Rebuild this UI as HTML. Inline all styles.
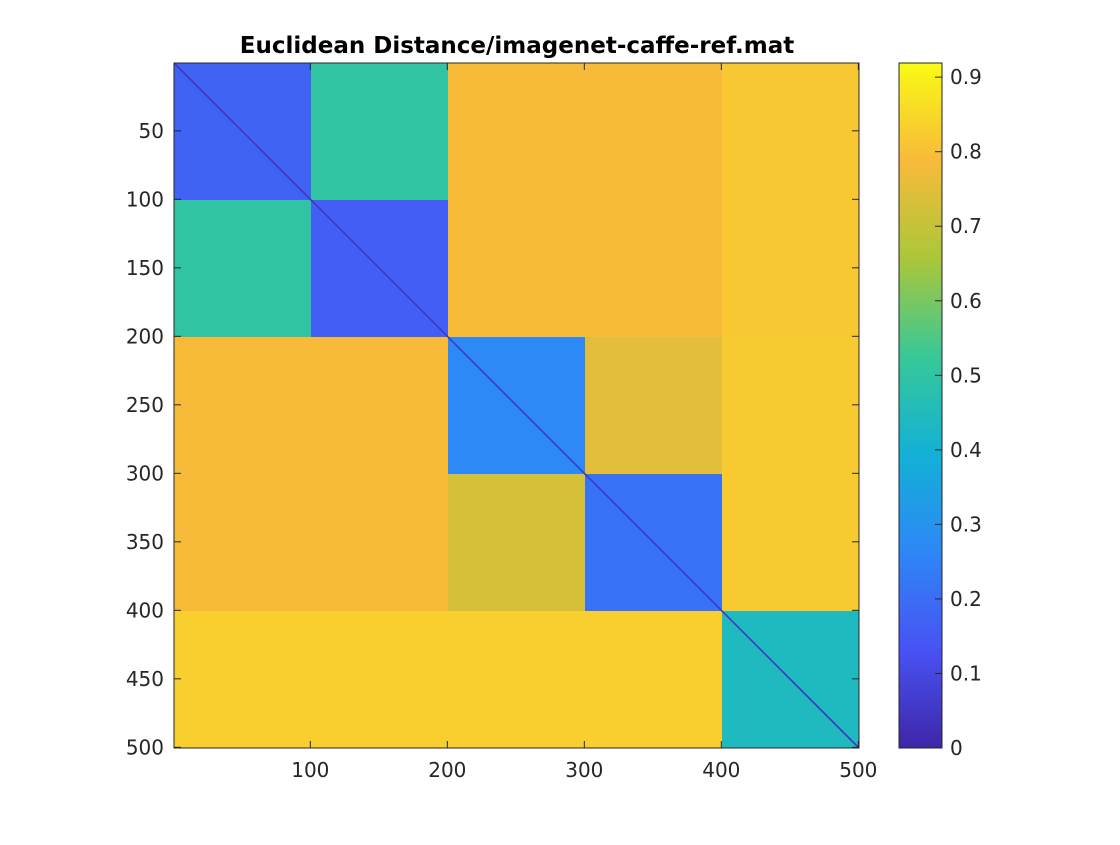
<!DOCTYPE html>
<html><head><meta charset="utf-8"><style>
body{margin:0;background:#fff;}
svg text{font-family:"DejaVu Sans","Liberation Sans",sans-serif;fill:#262626;}
</style></head><body>
<svg id="chart" width="1120" height="840" xmlns="http://www.w3.org/2000/svg">
<rect width="1120" height="840" fill="#fff"/>
<text x="517" y="53" font-size="23" font-weight="bold" text-anchor="middle" style="fill:#000">Euclidean Distance/imagenet-caffe-ref.mat</text>
<g id="cells"></g>
<g id="axes"></g>
<g id="cbar"></g>
</svg>
<script>
const blockEdges = [0, 100, 200, 300, 400, 500];
const blockValues = [
  [0.17, 0.50, 0.79, 0.79, 0.815],
  [0.50, 0.16, 0.79, 0.79, 0.815],
  [0.79, 0.79, 0.27, 0.75, 0.82],
  [0.79, 0.79, 0.73, 0.21, 0.82],
  [0.83, 0.83, 0.83, 0.83, 0.44]
];
const diagValue = 0.05;
const xTicks = [100, 200, 300, 400, 500];
const yTicks = [50, 100, 150, 200, 250, 300, 350, 400, 450, 500];
const cbTicks = [0, 0.1, 0.2, 0.3, 0.4, 0.5, 0.6, 0.7, 0.8, 0.9];
const cMax = 0.919;

const L = 174, T = 63, R = 859, B = 748, N = 500;
const sx = v => L + (v - 0.5) * (R - L) / N;
const sy = v => T + (v - 0.5) * (B - T) / N;
const stops = [[62,38,168],[72,82,244],[46,135,247],[18,177,214],[55,200,151],[171,199,57],[248,186,58],[249,251,21]];
function parula(v){
  let t = Math.max(0, Math.min(1, v / cMax)) * (stops.length - 1);
  let i = Math.min(stops.length - 2, Math.floor(t)), f = t - i;
  const c = stops[i].map((a, k) => Math.round(a + (stops[i+1][k] - a) * f));
  return `rgb(${c[0]},${c[1]},${c[2]})`;
}
const NS = "http://www.w3.org/2000/svg";
function mk(tag, attrs, parent){ const e = document.createElementNS(NS, tag); for (const k in attrs) e.setAttribute(k, attrs[k]); parent.appendChild(e); return e; }
const cells = document.getElementById('cells');
for (let r = 0; r < 5; r++) for (let c = 0; c < 5; c++) {
  const x0 = sx(blockEdges[c] + 0.5), x1 = sx(blockEdges[c+1] + 0.5);
  const y0 = sy(blockEdges[r] + 0.5), y1 = sy(blockEdges[r+1] + 0.5);
  const e = mk('rect', {x: x0, y: y0, width: x1 - x0 + 0.5, height: y1 - y0 + 0.5, fill: parula(blockValues[r][c])}, cells);
  
  
}
const dg = mk('line', {x1: L, y1: T, x2: R, y2: B, stroke: parula(diagValue), 'stroke-width': 1.6}, cells);



const ax = document.getElementById('axes');
const fr = mk('rect', {x: L, y: T, width: R - L, height: B - T, fill: 'none', stroke: '#262626', 'stroke-width': 1}, ax);


xTicks.forEach(v => {
  const x = sx(v);
  mk('line', {x1: x, y1: B, x2: x, y2: B - 7, stroke: '#262626'}, ax);
  mk('line', {x1: x, y1: T, x2: x, y2: T + 7, stroke: '#262626'}, ax);
  const t = mk('text', {x: x, y: B + 29, 'font-size': 20, 'text-anchor': 'middle'}, ax);
  t.textContent = v;
  
  
});
yTicks.forEach(v => {
  const y = sy(v);
  mk('line', {x1: L, y1: y, x2: L + 7, y2: y, stroke: '#262626'}, ax);
  mk('line', {x1: R, y1: y, x2: R - 7, y2: y, stroke: '#262626'}, ax);
  const t = mk('text', {x: L - 10, y: y + 7, 'font-size': 20, 'text-anchor': 'end'}, ax);
  t.textContent = v;
  
  
});

const cb = document.getElementById('cbar');
const CL = 899, CR = 942;
const cy = v => B - v / cMax * (B - T);
const grad = mk('linearGradient', {id: 'pg', x1: 0, y1: 1, x2: 0, y2: 0}, mk('defs', {}, cb));
stops.forEach((s, i) => mk('stop', {offset: i / (stops.length - 1), 'stop-color': `rgb(${s})`}, grad));
const cr = mk('rect', {x: CL, y: T, width: CR - CL, height: B - T, fill: 'url(#pg)', stroke: '#262626', 'stroke-width': 1}, cb);


cbTicks.forEach(v => {
  const y = cy(v);
  mk('line', {x1: CR, y1: y, x2: CR - 7, y2: y, stroke: '#262626'}, cb);
  const t = mk('text', {x: CR + 8, y: y + 7, 'font-size': 20}, cb);
  t.textContent = v === 0 ? '0' : v.toFixed(1);
  
  
});
</script>
</body></html>
